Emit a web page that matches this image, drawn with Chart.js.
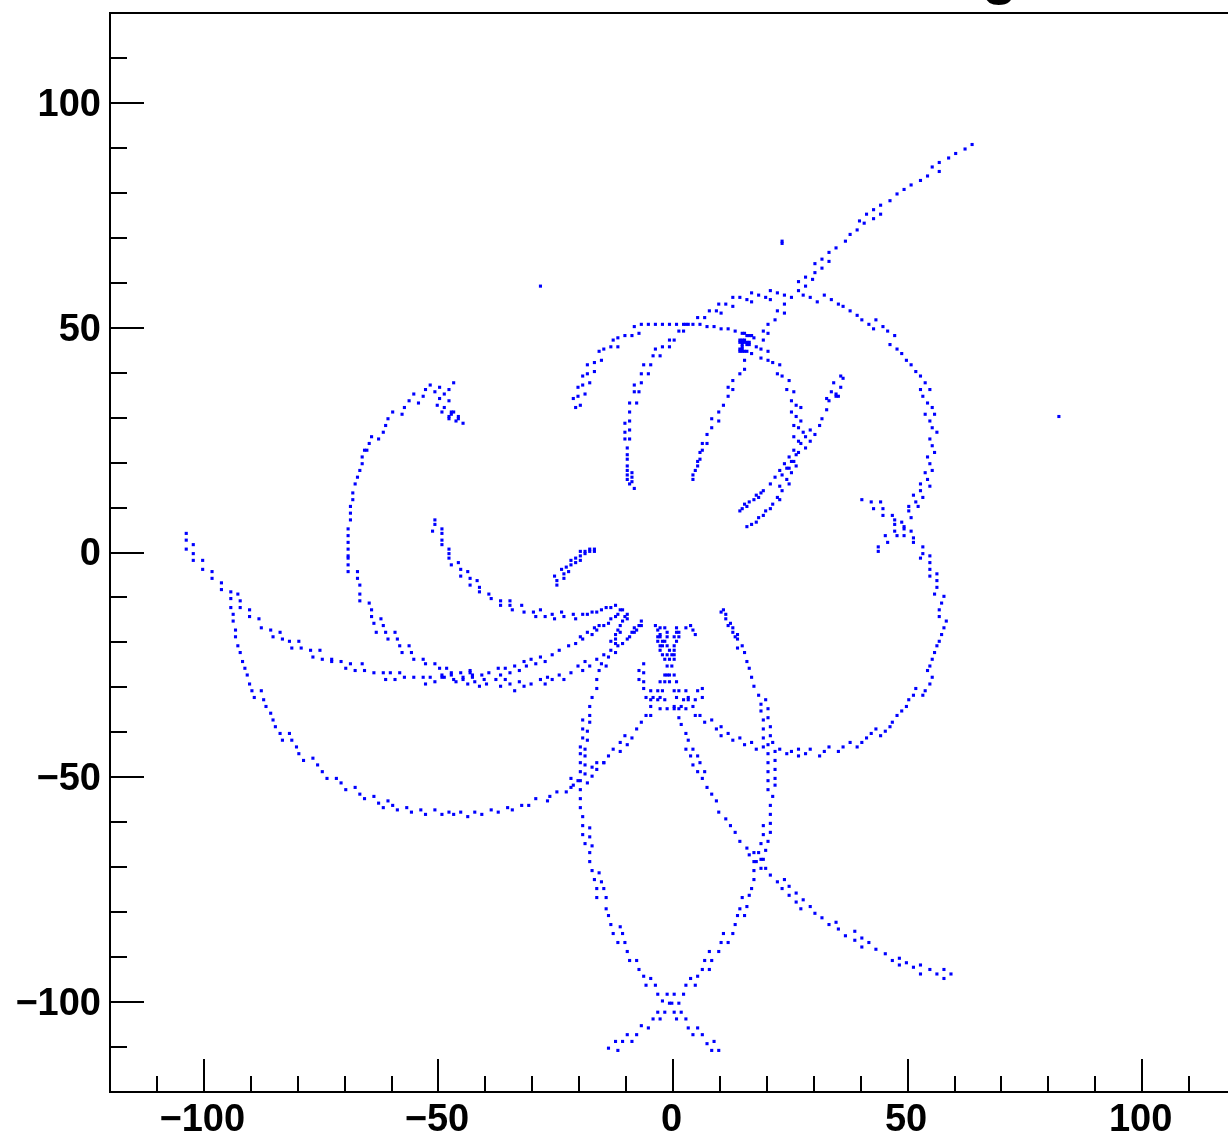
<!DOCTYPE html>
<html>
<head>
<meta charset="utf-8">
<style>
html,body{margin:0;padding:0;background:#fff;overflow:hidden;width:1228px;height:1136px}
canvas{display:block}
</style>
<script src="https://cdn.jsdelivr.net/npm/chart.js@4"></script>
</head>
<body>
<canvas id="c" width="1240" height="1136" style="width:1240px;height:1136px"></canvas>
<script>
const xMajorTicks=[-100,-50,0,50,100];
const yMajorTicks=[-100,-50,0,50,100];
const xMinorTicks=[-110,-90,-80,-70,-60,-40,-30,-20,-10,10,20,30,40,60,70,80,90,110];
const yMinorTicks=[-110,-90,-80,-70,-60,-40,-30,-20,-10,10,20,30,40,60,70,80,90,110];

const westUpper=[[-103.75,4.25],[-103.75,2.75],[-103.75,0.75],[-102.25,1.75],[-102.25,-0.25],[-102.25,-1.75],[-100.25,-1.75],[-100.25,-3.75],[-98.25,-4.25],[-98.25,-5.75],[-96.25,-6.75],[-96.25,-8.25],[-94.25,-8.75],[-94.25,-10.25],[-94.25,-12.25],[-92.75,-9.25],[-92.25,-10.75],[-92.25,-12.25],[-90.25,-12.75],[-90.25,-14.25],[-88.25,-14.75],[-87.75,-16.75],[-85.75,-17.25],[-85.25,-18.75],[-83.75,-17.75],[-83.25,-19.25],[-81.75,-19.75],[-81.25,-21.25],[-79.75,-19.75],[-79.25,-21.25],[-77.25,-21.75],[-76.75,-23.25],[-75.25,-21.75],[-74.75,-23.75],[-72.75,-23.75],[-72.75,-24.25],[-70.75,-24.25],[-69.75,-25.75],[-68.75,-24.75],[-67.75,-26.25],[-66.25,-24.75],[-65.75,-26.25],[-63.75,-26.75],[-61.75,-26.75],[-61.25,-28.25],[-60.25,-26.75],[-59.25,-28.25],[-58.25,-26.75],[-57.25,-27.75],[-55.25,-27.75],[-53.25,-27.75],[-52.75,-29.25],[-51.75,-27.75],[-50.75,-28.75],[-49.25,-27.25],[-49.25,-27.75],[-48.75,-27.75],[-47.25,-27.25],[-46.75,-28.25],[-46.25,-28.75],[-44.75,-27.75],[-44.75,-28.25],[-43.75,-29.25],[-42.75,-27.25],[-42.75,-27.75],[-42.25,-28.75],[-41.25,-29.75],[-40.25,-28.25],[-39.75,-29.25],[-37.75,-28.25],[-36.75,-27.25],[-35.75,-28.25],[-36.75,-29.75],[-34.75,-29.25],[-33.75,-30.75],[-32.75,-28.75],[-31.75,-29.75],[-30.25,-29.25]];

const westLower=[[-93.75,-13.75],[-93.75,-15.25],[-93.25,-17.25],[-93.25,-18.75],[-92.75,-20.75],[-92.25,-22.25],[-91.75,-24.25],[-91.25,-25.75],[-90.75,-27.25],[-90.25,-29.25],[-89.75,-30.75],[-89.25,-32.25],[-87.75,-30.75],[-87.25,-32.75],[-86.75,-34.25],[-85.75,-35.75],[-85.25,-37.25],[-84.75,-38.75],[-83.75,-40.25],[-83.25,-41.75],[-81.75,-40.25],[-81.25,-41.75],[-80.25,-43.25],[-79.75,-44.75],[-78.75,-46.25],[-76.75,-45.75],[-75.75,-47.25],[-74.75,-48.75],[-73.75,-50.25],[-71.75,-50.25],[-70.75,-51.25],[-69.75,-52.75],[-67.75,-52.25],[-66.75,-53.75],[-65.75,-54.75],[-63.75,-54.25],[-62.75,-55.75],[-61.75,-56.75],[-60.75,-55.25],[-59.75,-56.25],[-58.75,-57.25],[-56.75,-56.75],[-55.75,-57.75],[-53.75,-57.25],[-52.75,-58.25],[-50.75,-57.25],[-49.25,-58.25],[-47.75,-57.75],[-46.75,-58.25],[-45.25,-57.75],[-43.75,-58.75],[-42.25,-57.75],[-40.75,-58.25],[-38.75,-57.25],[-37.25,-57.75],[-35.25,-56.75],[-34.25,-57.25],[-32.25,-56.25],[-30.75,-56.25],[-29.25,-54.75],[-26.75,-55.25],[-26.25,-54.25],[-24.75,-53.25],[-22.75,-53.25],[-21.25,-51.75],[-21.75,-50.25],[-21.75,-52.25],[-20.25,-50.75],[-19.75,-50.75],[-18.25,-51.25],[-18.75,-49.25],[-17.25,-49.75],[-18.75,-47.25],[-17.25,-47.75],[-19.75,-48.75],[-19.75,-46.75],[-16.25,-48.25],[-16.25,-46.75],[-14.75,-46.75],[-13.75,-45.25],[-14.75,-46.75],[-12.75,-43.75],[-11.25,-44.25],[-11.25,-42.25],[-9.75,-42.75],[-10.25,-40.75],[-8.75,-41.25],[-7.75,-39.25],[-6.75,-37.75],[-5.75,-36.25],[-4.75,-36.25],[-4.75,-34.25]];

const westArc=[[-69.25,-4.25],[-69.25,-2.75],[-69.25,-1.25],[-69.25,-0.75],[-69.25,0.75],[-69.25,2.25],[-69.25,3.75],[-69.25,5.25],[-68.75,7.25],[-68.75,8.75],[-68.75,10.25],[-68.25,11.75],[-68.25,13.25],[-67.75,15.25],[-67.25,16.75],[-66.75,18.25],[-66.25,19.75],[-66.25,21.25],[-65.75,22.75],[-65.25,22.75],[-64.75,24.25],[-62.75,25.25],[-64.25,25.75],[-61.75,26.75],[-61.25,28.25],[-60.75,29.75],[-57.75,30.75],[-59.75,31.25],[-57.25,32.25],[-54.25,33.25],[-56.25,33.75],[-53.25,34.75],[-55.25,35.25],[-52.75,36.25],[-51.75,37.25],[-50.75,35.75],[-49.75,36.75],[-48.75,35.25],[-47.75,36.25],[-46.75,37.75],[-47.75,33.75],[-49.75,34.25],[-50.25,32.75],[-48.75,32.25],[-49.25,31.25],[-47.25,31.25],[-46.75,31.25],[-47.25,30.75],[-47.75,30.25],[-47.75,29.75],[-45.75,30.25],[-45.75,29.75],[-46.25,29.25],[-44.75,28.75]];

const westArcLower=[[-67.25,-4.25],[-67.25,-5.75],[-66.75,-7.25],[-66.75,-9.25],[-66.75,-10.75],[-64.75,-11.25],[-64.25,-12.75],[-64.25,-14.25],[-63.75,-15.75],[-62.25,-14.75],[-61.75,-16.25],[-63.25,-17.75],[-61.25,-17.75],[-59.25,-17.75],[-60.75,-19.25],[-58.75,-19.25],[-58.25,-20.75],[-56.25,-20.75],[-57.75,-22.25],[-55.75,-22.25],[-55.25,-23.75],[-53.25,-23.75],[-52.75,-24.75],[-50.75,-24.75],[-49.75,-25.75],[-48.25,-25.75],[-47.25,-26.75],[-45.25,-26.75],[-43.25,-26.25],[-43.25,-26.75],[-40.75,-27.25],[-39.25,-26.75],[-37.25,-25.75],[-35.75,-25.75],[-34.75,-26.75],[-33.75,-25.25],[-32.75,-26.25],[-31.75,-24.25],[-31.25,-25.25],[-30.25,-23.75],[-29.25,-24.75]];

const innerCurl=[[-50.75,7.25],[-50.75,6.25],[-51.25,4.75],[-49.25,5.25],[-49.25,4.25],[-49.25,2.75],[-49.25,1.75],[-47.75,0.75],[-47.75,-0.25],[-47.75,-1.25],[-47.25,-2.75],[-45.75,-2.25],[-45.25,-3.75],[-45.25,-5.25],[-43.75,-4.25],[-43.25,-5.75],[-43.25,-7.25],[-41.75,-6.25],[-41.25,-7.75],[-41.25,-8.75],[-39.25,-9.25],[-38.75,-10.25],[-36.75,-10.75],[-36.75,-11.75],[-34.75,-10.75],[-34.75,-11.75],[-34.25,-12.75],[-32.25,-11.75],[-31.75,-13.25],[-29.75,-13.25],[-29.25,-14.25]];

const shortArc=[[-25.25,-5.25],[-24.75,-6.25],[-24.75,-7.25],[-23.25,-5.75],[-23.25,-4.75],[-22.25,-4.25],[-23.75,-3.75],[-22.75,-3.25],[-21.75,-2.75],[-20.75,-2.25],[-21.75,-1.75],[-20.75,-1.25],[-19.75,-1.75],[-19.75,-0.75],[-19.75,0.25],[-18.75,-0.25],[-18.75,0.25],[-17.75,0.25],[-17.75,0.75],[-16.75,0.75],[-16.75,0.25]];

const fanUpper=[[-28.25,-12.75],[-27.25,-14.25],[-25.75,-13.75],[-25.25,-14.75],[-23.75,-13.25],[-23.25,-14.25],[-21.25,-13.75],[-20.75,-14.75],[-19.25,-13.75],[-18.25,-13.75],[-17.25,-13.25],[-16.25,-13.25],[-15.25,-12.75],[-14.25,-12.25],[-13.25,-12.25],[-12.25,-11.75],[-11.25,-12.75],[-10.75,-12.75],[-11.75,-13.75],[-12.25,-14.25],[-9.75,-13.75],[-10.25,-14.25],[-9.75,-14.75],[-13.25,-14.75],[-10.75,-15.25],[-13.75,-15.75],[-11.25,-16.25],[-14.75,-16.25],[-15.75,-16.25],[-16.75,-16.75],[-16.25,-17.25],[-18.25,-17.75],[-17.25,-18.25],[-19.75,-18.75],[-19.25,-19.25],[-20.75,-20.25],[-22.25,-20.75],[-24.25,-21.75],[-25.75,-22.75],[-27.25,-24.25],[-28.25,-23.25]];

const fanMiddle=[[-11.75,-17.25],[-11.25,-17.75],[-12.25,-18.25],[-12.25,-19.25],[-13.25,-19.75],[-12.25,-20.25],[-11.75,-20.75],[-10.75,-20.25],[-13.25,-21.75],[-12.25,-22.25],[-14.75,-22.75],[-13.75,-23.25],[-16.25,-23.75],[-15.25,-24.75],[-14.25,-25.25],[-15.75,-26.25],[-18.75,-24.25],[-17.75,-25.25],[-20.25,-25.25],[-19.25,-26.25],[-21.75,-26.75],[-24.25,-27.25],[-23.25,-28.25],[-25.75,-28.25],[-26.75,-27.75],[-28.25,-28.25],[-27.25,-29.25],[-6.75,-15.25],[-7.25,-16.25],[-6.75,-16.25],[-8.25,-16.75],[-7.75,-17.25],[-8.75,-17.75],[-8.25,-17.75],[-9.25,-18.75],[-9.75,-19.25]];

const southWestColumn=[[-16.25,-28.25],[-16.25,-30.25],[-17.25,-32.25],[-17.75,-34.25],[-17.75,-36.25],[-19.25,-37.25],[-17.75,-37.75],[-19.25,-39.25],[-18.25,-39.75],[-19.25,-41.25],[-18.25,-41.75],[-19.75,-43.25],[-18.75,-43.75],[-19.75,-44.75],[-18.75,-45.25],[-19.75,-52.75],[-19.75,-54.75],[-19.75,-56.75],[-19.25,-58.75],[-19.25,-60.75],[-17.75,-61.25],[-19.25,-62.75],[-17.75,-63.25],[-18.75,-64.75],[-17.25,-65.25],[-17.75,-66.75],[-17.75,-68.75],[-17.25,-70.75],[-15.75,-71.25],[-16.75,-72.75],[-15.25,-73.25],[-16.25,-74.75],[-14.75,-74.75],[-16.25,-76.75],[-14.25,-76.75],[-14.25,-79.25],[-13.75,-80.75],[-13.25,-82.75],[-11.25,-83.25],[-12.75,-84.75],[-10.75,-84.75],[-11.75,-86.75],[-10.25,-86.75],[-9.75,-88.75],[-9.25,-90.75],[-7.75,-90.75],[-7.25,-92.75],[-6.25,-94.25],[-4.75,-94.75],[-5.75,-96.25],[-3.75,-96.25],[-3.25,-98.25],[-1.25,-98.25],[0.25,-98.25],[2.25,-98.25],[-2.25,-99.75],[-0.75,-100.25],[-0.25,-100.25],[1.25,-100.25],[-3.25,-102.25],[-1.75,-102.25],[0.25,-102.25],[1.75,-102.25],[-4.25,-103.75],[-2.75,-103.75],[0.75,-103.75],[2.75,-103.75],[-6.75,-105.25],[-5.25,-105.75],[3.25,-105.75],[5.25,-105.75],[-9.75,-107.25],[-7.75,-107.25],[4.25,-107.25],[6.25,-107.25],[-12.25,-108.75],[-10.75,-108.75],[-8.75,-108.75],[7.25,-109.25],[8.75,-108.75],[-13.75,-110.25],[-11.75,-110.75],[8.25,-110.75],[9.75,-110.75]];

const southEastColumn=[[2.75,-96.25],[4.75,-96.25],[3.75,-94.75],[5.25,-94.25],[6.25,-92.75],[7.75,-92.75],[6.75,-90.75],[8.25,-90.75],[7.75,-88.75],[9.75,-88.75],[10.25,-86.75],[11.75,-86.75],[10.75,-84.75],[12.75,-84.75],[13.25,-82.75],[13.75,-80.75],[15.25,-80.75],[14.25,-79.25],[15.75,-78.75],[14.75,-76.75],[16.25,-76.25],[16.75,-74.75],[17.25,-72.75],[17.25,-70.75],[17.25,-68.75],[17.75,-68.75],[18.75,-70.25],[19.75,-70.25],[18.75,-68.25],[19.25,-68.25],[17.25,-66.75],[18.25,-66.75],[19.75,-66.25],[18.75,-64.75],[20.25,-64.25],[19.25,-62.75],[20.75,-62.25],[19.25,-60.75],[20.75,-60.25],[20.75,-58.25],[20.75,-56.25],[21.25,-54.25],[20.25,-52.75],[21.75,-51.75],[21.75,-50.25],[20.25,-50.75],[21.75,-48.25],[20.25,-48.75],[21.75,-46.25],[20.25,-46.75],[20.25,-44.75],[21.75,-44.25],[19.25,-43.25],[20.25,-42.75],[21.25,-42.25],[19.25,-41.25],[20.75,-40.75],[19.25,-39.25],[20.75,-38.75],[19.25,-37.25],[20.25,-36.75],[18.75,-35.25],[20.25,-34.75],[18.75,-33.75],[19.75,-32.75],[18.25,-31.75],[17.25,-29.75],[16.75,-27.75],[16.25,-25.75],[15.75,-24.25],[15.25,-22.25],[13.75,-21.25],[14.75,-20.75],[13.75,-19.25],[13.25,-18.75],[13.75,-18.25],[12.75,-17.75],[12.75,-16.75],[11.75,-16.25],[12.25,-15.75],[11.25,-14.75],[11.25,-13.75],[10.25,-13.25],[10.75,-12.75]];

const hourglass=[[-3.75,-16.25],[-2.75,-16.75],[-3.25,-17.25],[-1.75,-16.75],[-2.75,-18.25],[-1.25,-17.75],[-3.25,-18.75],[-2.75,-18.75],[-1.25,-18.75],[-3.25,-19.75],[-2.25,-19.75],[-1.75,-19.75],[-2.75,-20.75],[-2.25,-20.75],[-1.25,-20.75],[-2.75,-21.75],[-2.25,-22.75],[-1.25,-22.75],[-1.75,-23.75],[-0.75,-23.75],[-1.25,-25.25],[-0.25,-25.25],[-1.75,-27.25],[-1.25,-27.25],[-0.75,-27.25],[0.25,-27.25],[-2.75,-28.75],[-1.75,-28.75],[-0.75,-28.75],[0.75,-28.75],[0.75,-16.75],[0.75,-17.75],[1.25,-17.75],[0.25,-18.75],[1.25,-18.75],[0.75,-19.75],[0.25,-20.75],[-0.75,-21.75],[0.25,-21.75],[-0.25,-22.75],[0.25,-22.75],[0.25,-23.75],[2.75,-16.75],[3.75,-16.25],[4.25,-17.25],[4.75,-18.25]];

const centerBand=[[-6.25,-24.75],[-7.25,-26.25],[-6.25,-26.75],[-7.25,-28.25],[-6.25,-28.75],[-6.25,-30.25],[-5.75,-32.25],[-4.75,-30.75],[-4.75,-32.75],[-4.25,-32.25],[-3.25,-30.75],[-3.25,-32.75],[-2.75,-32.25],[-2.25,-30.75],[-1.75,-32.75],[0.25,-30.75],[1.25,-30.75],[2.75,-30.75],[5.25,-30.75],[6.25,-30.25],[0.75,-32.25],[2.25,-32.75],[3.25,-32.25],[3.25,-32.75],[4.75,-32.75],[6.25,-32.25],[-2.75,-34.75],[-1.25,-34.75],[0.25,-34.25],[0.25,-34.75],[1.25,-34.75],[1.75,-34.25],[2.75,-34.75],[4.25,-34.25]];

const diagonalSouthEast=[[1.25,-36.75],[1.75,-38.25],[2.75,-40.25],[3.25,-41.75],[2.75,-43.75],[3.75,-45.25],[4.25,-43.75],[5.25,-45.25],[4.25,-47.25],[5.75,-46.75],[5.25,-48.75],[6.75,-48.75],[6.25,-50.25],[7.25,-52.25],[8.25,-53.75],[9.25,-55.25],[9.75,-57.75],[11.25,-59.25],[12.25,-60.75],[13.25,-62.25],[14.25,-64.25],[15.75,-65.75],[16.25,-67.25],[20.75,-71.75],[22.25,-73.25],[23.75,-72.75],[23.25,-74.75],[24.75,-74.25],[24.75,-76.25],[26.25,-75.75],[26.25,-77.75],[27.75,-77.25],[27.25,-79.25],[29.25,-78.75],[30.25,-80.25],[31.75,-81.25],[33.25,-82.75],[34.75,-82.25],[35.25,-83.75],[36.75,-85.25],[38.75,-84.25],[38.75,-86.25],[40.25,-85.75],[40.25,-87.75],[41.75,-86.75],[43.25,-88.25],[45.25,-89.25],[46.75,-90.75],[48.25,-90.25],[48.25,-91.75],[49.75,-91.25],[51.25,-92.25],[52.75,-91.75],[52.75,-93.75],[54.75,-92.75],[56.25,-93.75],[57.75,-92.75],[57.75,-94.75],[59.25,-93.75]];

const eastLowerArc=[[4.75,-36.25],[5.75,-36.25],[6.75,-37.75],[8.25,-37.25],[9.25,-39.25],[10.25,-38.75],[10.25,-40.75],[11.75,-40.25],[12.75,-41.75],[14.25,-41.25],[15.25,-42.75],[16.75,-42.25],[17.75,-43.75],[22.75,-43.75],[24.25,-44.75],[25.25,-44.25],[26.75,-43.75],[26.75,-45.25],[28.25,-44.75],[29.25,-43.75],[31.25,-45.25],[32.25,-44.25],[33.25,-43.25],[35.25,-44.25],[36.25,-43.25],[37.75,-42.25],[39.25,-43.25],[40.25,-42.25],[41.25,-41.25],[42.25,-40.25],[43.25,-39.25],[44.25,-40.75],[45.25,-39.75],[46.25,-38.75],[46.75,-37.75],[47.75,-36.25],[48.75,-35.25],[49.75,-34.25],[50.25,-32.75],[51.25,-31.75],[51.75,-30.25],[53.25,-31.75],[53.75,-30.75],[54.75,-29.25],[55.25,-27.75],[54.25,-26.25],[54.75,-25.25],[55.25,-23.75],[55.75,-22.25],[56.25,-20.75],[56.75,-19.75],[57.25,-18.25],[57.75,-16.75],[58.25,-15.25],[56.75,-14.25],[56.75,-12.75],[57.25,-11.25],[57.75,-9.75],[55.75,-9.25],[56.25,-7.75],[56.25,-6.25],[56.25,-4.75],[54.75,-5.25],[54.75,-3.75],[54.75,-2.25],[54.75,-0.75],[52.75,-1.25],[53.25,-0.25],[53.25,1.25],[51.25,2.25],[51.25,3.25]];

const eastUpperArc=[[50.75,4.75],[49.25,3.75],[49.25,5.25],[49.25,5.75],[48.75,6.75],[50.75,7.75],[50.25,9.25],[50.25,10.25],[52.25,10.25],[51.75,11.25],[53.25,12.25],[51.25,12.75],[52.75,13.75],[54.75,14.75],[52.75,15.25],[54.25,16.25],[53.75,17.75],[55.25,18.25],[54.75,19.75],[54.25,21.25],[55.75,22.25],[55.25,23.75],[54.75,25.25],[56.25,26.75],[55.25,27.75],[54.75,29.25],[53.75,30.75],[55.75,30.75],[55.25,32.25],[54.25,33.25],[53.25,34.75],[52.75,36.25],[54.75,36.25],[53.75,37.75],[52.75,39.25],[51.75,40.25],[50.75,41.75],[49.75,42.75],[48.75,44.25],[47.75,45.25],[46.25,46.25],[47.25,48.25],[45.75,49.25],[44.75,50.25],[42.75,49.75],[41.75,50.75],[43.25,51.75],[40.25,51.75],[39.25,52.75],[37.75,53.75],[36.25,54.75],[35.25,55.25],[33.75,56.25],[32.25,57.25],[30.75,55.75],[29.25,56.75],[27.75,57.25],[25.25,56.75],[23.75,57.25],[22.25,57.75],[20.75,58.25],[20.75,56.25],[19.75,56.75],[18.25,57.25],[16.75,57.75],[16.75,55.75],[15.75,56.25],[14.25,56.75],[12.75,56.75],[12.75,54.75],[11.25,55.25],[9.75,55.25],[10.25,53.25],[9.25,53.75],[7.75,53.75],[6.75,52.25],[5.25,52.25],[5.75,50.75],[4.25,50.75],[3.25,50.75],[2.75,50.75],[2.25,50.75],[0.75,50.75],[-0.75,50.75],[-2.25,50.75],[-3.75,50.75],[-5.25,50.75],[-6.75,50.75],[-8.25,50.25],[-7.25,48.75],[-8.75,48.25],[-10.25,48.25],[-11.75,47.75],[-12.75,47.25],[-11.75,45.75],[-13.25,45.75],[-14.75,45.25],[-15.75,44.75],[-15.25,42.75],[-16.75,42.25],[-18.25,41.75],[-16.75,40.25],[-18.25,39.75],[-19.25,39.25],[-17.75,37.75],[-19.25,37.25],[-20.25,36.75],[-18.75,35.25],[-20.25,34.75],[-21.25,34.25],[-19.75,32.75],[-20.75,32.25]];

const xCross=[[40.25,11.75],[42.25,11.25],[44.25,11.25],[42.75,9.75],[44.75,9.75],[44.75,8.25],[46.75,8.25],[47.25,7.25],[47.25,6.25],[47.25,4.75],[45.25,3.75],[47.75,3.75],[45.75,2.25],[43.75,1.25],[43.75,0.25]];

const innerUpperLeft=[[-8.25,14.25],[-8.75,15.75],[-9.25,15.25],[-9.75,16.25],[-8.75,16.75],[-9.75,17.25],[-8.75,17.75],[-9.75,18.25],[-9.75,19.25],[-9.75,20.75],[-9.75,21.75],[-9.75,23.25],[-10.25,25.25],[-9.25,25.25],[-10.25,26.75],[-9.25,27.25],[-10.25,28.75],[-9.25,29.25],[-9.25,31.25],[-9.25,33.25],[-7.75,33.25],[-8.25,35.75],[-7.25,35.75],[-8.25,37.25],[-6.75,37.75],[-6.75,39.75],[-5.25,39.75],[-6.25,41.75],[-4.75,41.75],[-4.25,43.75],[-2.75,43.75],[-3.75,45.25],[-2.25,45.75],[-0.75,45.75],[-0.75,47.25],[0.25,47.25],[1.25,49.25],[2.25,49.25]];

const innerMiddle=[[4.25,16.25],[4.25,17.25],[4.75,18.25],[5.25,19.25],[5.25,20.25],[5.75,20.75],[6.25,22.75],[5.75,22.25],[6.25,24.25],[7.25,24.25],[7.25,26.25],[8.25,27.75],[8.25,29.75],[9.75,29.25],[9.75,31.25],[10.75,32.75],[11.75,34.75],[11.75,36.75],[12.75,36.25],[12.75,38.25],[14.25,39.75],[15.25,40.75],[15.25,42.75]];

const cluster=[[14.75,48.75],[15.25,48.75],[15.75,48.25],[16.25,48.25],[16.75,48.25],[17.25,47.75],[14.25,47.25],[14.75,47.25],[15.25,47.25],[14.25,46.75],[14.75,46.75],[15.25,46.75],[15.75,46.75],[16.25,46.75],[14.75,46.25],[15.75,46.25],[16.25,46.25],[14.25,45.25],[14.75,45.25],[14.25,44.75],[14.75,44.75],[15.25,44.75],[15.75,44.75],[14.75,45.75],[16.75,44.25],[11.75,49.75],[10.25,49.75],[8.75,50.25],[7.25,50.25],[13.25,49.25]];

const northEastLimb=[[19.25,47.25],[19.25,49.25],[20.25,48.75],[20.25,50.75],[21.75,51.75],[22.25,53.75],[23.75,53.25],[23.75,55.25],[26.75,58.25],[28.25,59.25],[26.75,60.25],[29.75,60.75],[28.25,61.25],[30.25,62.25],[31.75,63.25],[30.25,64.25],[33.25,64.75],[31.75,65.25],[33.25,66.75],[34.75,67.75],[36.75,69.25],[37.75,70.75],[39.25,71.75],[40.75,73.25],[39.75,73.75],[42.75,74.25],[41.25,75.25],[44.25,75.25],[42.75,76.25],[44.25,77.25],[46.25,78.25],[47.75,79.75],[49.25,80.75],[50.75,81.75],[52.75,82.75],[54.25,83.75],[56.75,84.75],[55.25,85.75],[56.75,86.75],[58.75,87.75],[60.25,88.75],[62.25,89.75],[63.75,90.75]];

const crossingLimb=[[17.75,45.75],[18.75,45.25],[20.25,44.75],[18.75,43.25],[20.25,42.75],[21.25,42.25],[22.75,41.75],[22.25,39.75],[23.25,39.25],[24.75,38.25],[24.25,36.25],[25.75,35.75],[25.25,33.75],[26.25,32.75],[27.25,32.25],[25.25,31.25],[26.25,30.25],[27.25,29.25],[25.75,28.25],[26.75,27.75],[27.75,26.75],[29.25,27.25],[30.25,26.25],[25.75,25.75],[28.25,25.75],[26.75,24.75],[27.25,24.25],[29.25,24.75],[28.25,23.25],[25.75,22.75],[26.75,22.25],[26.25,21.75],[24.75,21.25],[25.25,20.25],[25.75,20.25],[23.75,19.75],[26.25,19.25],[24.25,18.75],[24.75,18.75],[22.75,18.25],[25.25,17.75],[23.25,17.25],[21.75,16.75],[24.25,16.25],[20.75,15.25],[24.75,15.25],[22.75,14.75],[23.25,13.75],[19.25,13.75],[18.75,13.25],[17.75,12.75],[18.25,12.25],[22.25,12.25],[22.75,11.75],[17.25,11.75],[16.25,11.25],[15.25,10.75],[15.75,10.25],[14.75,9.75],[14.25,9.25],[21.25,10.75],[20.75,9.75],[19.75,9.25],[19.25,8.25],[18.25,7.75],[17.75,6.75],[16.75,6.25],[15.75,5.75],[31.25,28.25],[31.75,29.75],[32.75,31.75],[32.75,34.25],[33.25,33.75],[33.75,35.75],[34.75,34.75],[35.25,34.75],[34.75,35.25],[34.25,37.75],[35.75,36.75],[35.75,39.25],[36.25,38.75]];

const isolatedHits=[[23.25,69.25],[23.25,68.75],[-28.25,59.25],[82.25,30.25]];

const tracks=[westUpper,westLower,westArc,westArcLower,innerCurl,shortArc,fanUpper,fanMiddle,southWestColumn,southEastColumn,hourglass,centerBand,diagonalSouthEast,eastLowerArc,eastUpperArc,xCross,innerUpperLeft,innerMiddle,cluster,northEastLimb,crossingLimb,isolatedHits];

const labelFont={family:'"Liberation Sans",Arial,sans-serif',size:38,weight:'bold'};
const fmt=v=>(v<0?'\u2212':'')+Math.abs(v);

const frame={
  id:'frame',
  afterDatasetsDraw(chart){
    const {ctx,chartArea:a,scales:{x,y}}=chart;
    ctx.save();
    ctx.strokeStyle='#000';
    const tick=(x1,y1,x2,y2,w)=>{ctx.lineWidth=w;ctx.beginPath();ctx.moveTo(x1,y1);ctx.lineTo(x2,y2);ctx.stroke();};
    xMajorTicks.forEach(v=>{const p=Math.round(x.getPixelForValue(v));tick(p,a.bottom,p,a.bottom-33,2);});
    xMinorTicks.forEach(v=>{const p=Math.round(x.getPixelForValue(v));tick(p,a.bottom,p,a.bottom-16,2);});
    yMajorTicks.forEach(v=>{const p=Math.round(y.getPixelForValue(v));tick(a.left,p,a.left+34,p,2);});
    yMinorTicks.forEach(v=>{const p=Math.round(y.getPixelForValue(v));tick(a.left,p,a.left+17,p,2);});
    tick(a.left-1,a.top,a.right,a.top,2);
    ctx.fillStyle='#000';
    ctx.font='bold 58px "Liberation Sans",Arial,sans-serif';
    ctx.textAlign='center';
    ctx.textBaseline='alphabetic';
    ctx.fillText('g',999.5,-7.5);
    ctx.restore();
  }
};

new Chart(document.getElementById('c'),{
  type:'scatter',
  data:{datasets:tracks.map(t=>({
    data:t.map(([px,py])=>({x:px,y:py})),
    pointStyle:'rect',pointRadius:2.2,pointHoverRadius:2.2,pointBorderWidth:0,
    pointBackgroundColor:'#0000ff',showLine:false
  }))},
  plugins:[frame],
  options:{
    responsive:false,animation:false,
    events:[],
    layout:{autoPadding:false,padding:{top:13,right:4,left:0,bottom:0}},
    plugins:{legend:{display:false},title:{display:false},tooltip:{enabled:false}},
    scales:{
      x:{type:'linear',min:-120,max:120,
        afterBuildTicks:s=>{s.ticks=xMajorTicks.map(v=>({value:v}));},
        afterFit:s=>{s.height=44;s.paddingLeft=0;s.paddingRight=0;},
        grid:{display:false,drawTicks:false},
        border:{display:true,color:'#000',width:2},
        ticks:{autoSkip:false,maxRotation:0,minRotation:0,padding:6,labelOffset:-1.5,color:'#000',font:labelFont,callback:fmt}},
      y:{type:'linear',min:-120,max:120,
        afterBuildTicks:s=>{s.ticks=yMajorTicks.map(v=>({value:v}));},
        afterFit:s=>{s.width=110;s.paddingTop=0;s.paddingBottom=0;},
        grid:{display:false,drawTicks:false},
        border:{display:true,color:'#000',width:2},
        ticks:{autoSkip:false,padding:9,labelOffset:2.5,color:'#000',font:labelFont,callback:fmt}}
    }
  }
});
</script>
</body>
</html>
